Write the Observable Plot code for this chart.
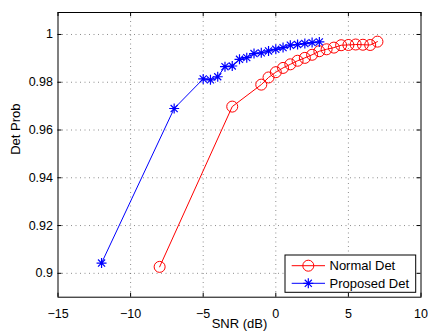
<!DOCTYPE html>
<html><head><meta charset="utf-8">
<script src="https://cdn.jsdelivr.net/npm/d3@7"></script>
<script src="https://cdn.jsdelivr.net/npm/@observablehq/plot@0.6"></script>
<style>body{margin:0;background:#fff}</style>
</head><body><div id="chart"></div>
<script>
// ---- data ----
const normalSnr  = [-8, -3, -1, -0.5, 0, 0.5, 1, 1.5, 2, 2.5, 3, 3.5, 4, 4.5, 5, 5.5, 6, 6.5, 7];
const normalProb = [0.9027, 0.9698, 0.9790, 0.9820, 0.9842, 0.9860, 0.9875, 0.9890, 0.9902, 0.9915, 0.9930, 0.9938, 0.9945, 0.9955, 0.9956, 0.9958, 0.9957, 0.9956, 0.9970];
const proposedSnr  = [-12, -7, -5, -4.5, -4, -3.5, -3, -2.5, -2, -1.5, -1, -0.5, 0, 0.5, 1, 1.5, 2, 2.5, 3];
const proposedProb = [0.9043, 0.9690, 0.9814, 0.9810, 0.9823, 0.9865, 0.9868, 0.9896, 0.9903, 0.9920, 0.9923, 0.9931, 0.9938, 0.9945, 0.9955, 0.9958, 0.9962, 0.9966, 0.9969];
const xTicks = [-15, -10, -5, 0, 5, 10];
const yTicks = [0.9, 0.92, 0.94, 0.96, 0.98, 1];
const seriesNames = ["Normal Det", "Proposed Det"];
const seriesColors = ["#ff0000", "#0000ff"];
const xLabel = "SNR (dB)";
const yLabel = "Det Prob";

const normal = normalSnr.map((x, i) => ({x, y: normalProb[i]}));
const proposed = proposedSnr.map((x, i) => ({x, y: proposedProb[i]}));

const asterisk = {
  draw(ctx, size) {
    const r = Math.sqrt(size / Math.PI), d = r * Math.SQRT1_2;
    ctx.moveTo(-r, 0); ctx.lineTo(r, 0);
    ctx.moveTo(0, -r); ctx.lineTo(0, r);
    ctx.moveTo(-d, -d); ctx.lineTo(d, d);
    ctx.moveTo(-d, d); ctx.lineTo(d, -d);
  }
};

const W = 428, H = 331, mL = 57.5, mR = 7.5, mT = 12, mB = 34.3;
const frameH = H - mT - mB, frameW = W - mL - mR;
const tick = 4;
const fmtY = d => String(+d.toFixed(2));
const font = "'Liberation Sans', Arial, sans-serif";

const chart = Plot.plot({
  width: W, height: H,
  marginLeft: mL, marginRight: mR, marginTop: mT, marginBottom: mB,
  style: {fontFamily: font, fontSize: "12px", color: "#000", background: "#fff"},
  x: {domain: [-15, 10], ticks: xTicks},
  y: {domain: [0.89, 1.0092], ticks: yTicks},
  marks: [
    Plot.gridX(xTicks.slice(1, -1), {stroke: "#000", strokeOpacity: 0.45, strokeDasharray: "1,3.5"}),
    Plot.gridY(yTicks, {stroke: "#000", strokeOpacity: 0.45, strokeDasharray: "1,3.5"}),
    Plot.tickX(xTicks, {x: d => d, insetTop: frameH - tick, stroke: "#000"}),
    Plot.tickX(xTicks, {x: d => d, insetBottom: frameH - tick, stroke: "#000"}),
    Plot.tickY(yTicks, {y: d => d, insetRight: frameW - tick, stroke: "#000"}),
    Plot.tickY(yTicks, {y: d => d, insetLeft: frameW - tick, stroke: "#000"}),
    Plot.axisX(xTicks, {tickSize: 0, tickPadding: 12, label: null, fontSize: 12.5}),
    Plot.axisY(yTicks, {tickSize: 0, tickPadding: 5, label: null, tickFormat: fmtY, fontSize: 12.5}),
    Plot.line(normal, {x: "x", y: "y", stroke: seriesColors[0], strokeWidth: 1}),
    Plot.dot(normal, {x: "x", y: "y", stroke: seriesColors[0], fill: "none", r: 5.5, strokeWidth: 1}),
    Plot.line(proposed, {x: "x", y: "y", stroke: seriesColors[1], strokeWidth: 1}),
    Plot.dot(proposed, {x: "x", y: "y", stroke: seriesColors[1], symbol: asterisk, r: 5, strokeWidth: 1.2}),
    Plot.frame({stroke: "#000", strokeWidth: 1}),
    Plot.text([xLabel], {frameAnchor: "bottom", dy: 26.5, lineAnchor: "middle", fontSize: 13, fill: "#000"}),
    Plot.text([yLabel], {frameAnchor: "left", dx: 15 - mL, rotate: -90, lineAnchor: "middle", fontSize: 13, fill: "#000"})
  ]
});

// ---- legend ----
const svg = d3.select(chart);
const R = W - mR, B = H - mB;
const bx0 = R - 135.5, bx1 = R - 4.8, by0 = B - 41.7, by1 = B - 4.4;
const lg = svg.append("g").attr("font-family", font).attr("font-size", 13).attr("text-anchor", "start");
lg.append("rect").attr("x", bx0).attr("y", by0).attr("width", bx1 - bx0).attr("height", by1 - by0)
  .attr("fill", "#fff").attr("stroke", "#000").attr("stroke-width", 1);
const rows = [by0 + 10.7, by0 + 28.3];
const symbols = [d3.symbol(d3.symbolCircle, Math.PI * 5.5 * 5.5), d3.symbol(asterisk, Math.PI * 5 * 5)];
seriesNames.forEach((name, i) => {
  const y = rows[i];
  lg.append("line").attr("x1", bx0 + 6.7).attr("x2", bx0 + 40).attr("y1", y).attr("y2", y)
    .attr("stroke", seriesColors[i]).attr("stroke-width", 1);
  lg.append("path").attr("d", symbols[i]()).attr("transform", `translate(${bx0 + 23.3},${y})`)
    .attr("fill", "none").attr("stroke", seriesColors[i]).attr("stroke-width", i ? 1.2 : 1);
  lg.append("text").attr("x", bx0 + 44.5).attr("y", y).attr("dy", "0.35em").attr("fill", "#000")
    .attr("text-anchor", "start").text(name);
});

document.getElementById("chart").append(chart);
</script>
</body></html>
